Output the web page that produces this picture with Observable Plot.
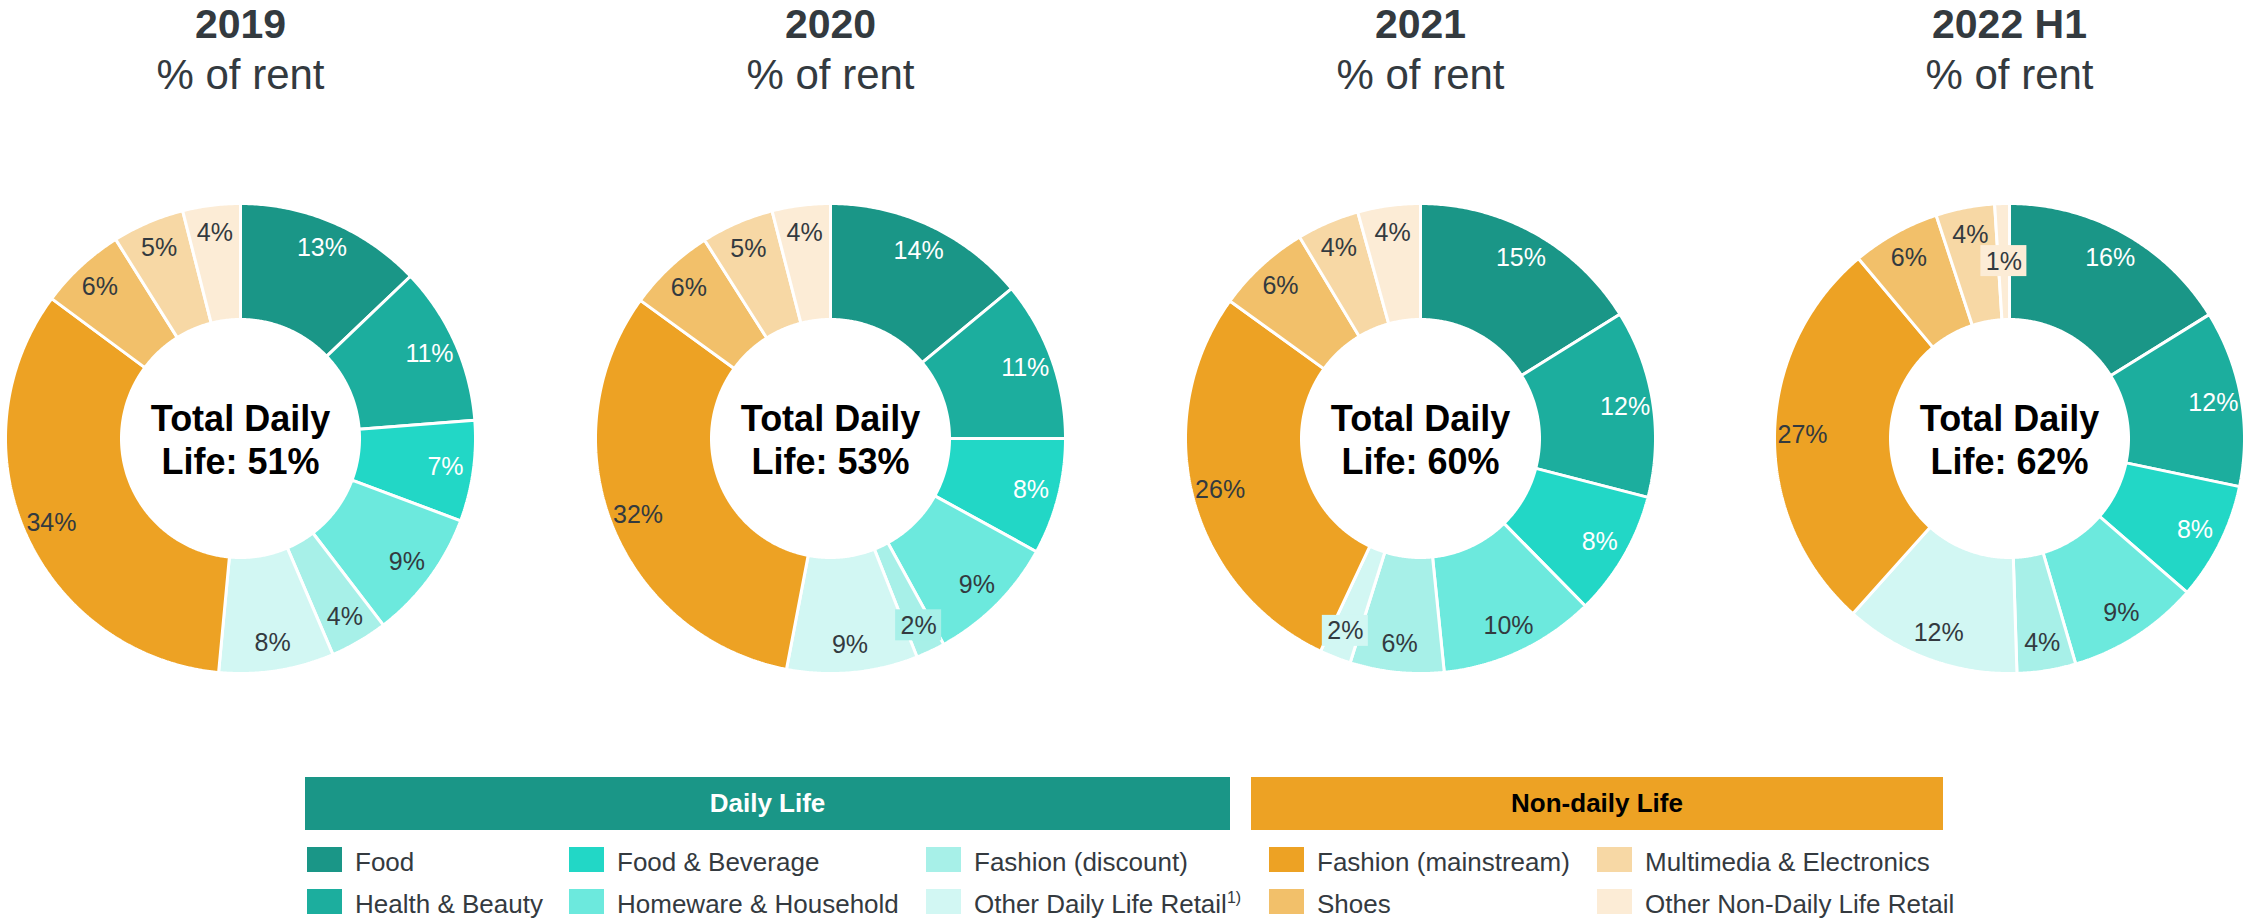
<!DOCTYPE html>
<html><head><meta charset="utf-8">
<script src="https://cdn.jsdelivr.net/npm/d3@7"></script>
<script src="https://cdn.jsdelivr.net/npm/@observablehq/plot@0.6"></script>
<style>
body{margin:0;background:#fff;font-family:"Liberation Sans",Arial,sans-serif;}
#wrap{position:relative;width:2247px;height:923px;overflow:hidden;background:#fff;}
#chart{position:absolute;left:0;top:0;}
.bar{position:absolute;top:777px;height:53px;display:flex;align-items:center;justify-content:center;font-weight:bold;font-size:26px;}
.sw{position:absolute;width:35px;height:25px;}
.lt{position:absolute;font-size:26px;color:#343a3f;line-height:26px;white-space:nowrap;}
.lt sup{font-size:16px;line-height:0;vertical-align:10px;}
</style></head><body><div id="wrap"><div id="chart"></div><div id="legend"></div></div>
<script>
// ---- data ----
const years = ["2019", "2020", "2021", "2022 H1"];
const totalDailyLife = [51, 53, 60, 62];
const categories = ["Food", "Health & Beauty", "Food & Beverage", "Homeware & Household", "Fashion (discount)", "Other Daily Life Retail", "Fashion (mainstream)", "Shoes", "Multimedia & Electronics", "Other Non-Daily Life Retail"];
const groups = ["Daily Life", "Daily Life", "Daily Life", "Daily Life", "Daily Life", "Daily Life", "Non-daily Life", "Non-daily Life", "Non-daily Life", "Non-daily Life"];
const colors = ["#1a9687", "#1cae9e", "#22d7c6", "#6ce9dd", "#a7f0e8", "#d2f7f3", "#eda224", "#f2c06a", "#f7d8a5", "#fcecd6"];
const values2019 = [13, 11, 7, 9, 4, 8, 34, 6, 5, 4];
const values2020 = [14, 11, 8, 9, 2, 9, 32, 6, 5, 4];
const values2021 = [15, 12, 8, 10, 6, 2, 26, 6, 4, 4];
const values2022 = [16, 12, 8, 9, 4, 12, 27, 6, 4, 1];
const seriesValues = [values2019, values2020, values2021, values2022];
const whiteLabelCats = ["Food", "Health & Beauty", "Food & Beverage"];

// ---- layout ----
const W = 2247, H = 700;
const centersX = [240, 830, 1420, 2009];
const CY = 438, R_OUT = 235, R_IN = 119, R_LABEL = 207, R_LABEL_TINY = 177;
const textDark = "#333a3f";

// ---- build geometry from data ----
const points = [];
const labels = [];
const yearInfo = [];
years.forEach((yr, k) => {
  const cx = centersX[k];
  const vals = seriesValues[k];
  const arcs = d3.pie().sort(null).value(d => d)(vals);
  yearInfo.push({year: yr, total: totalDailyLife[k], cx});
  arcs.forEach((a, i) => {
    const id = yr + "|" + i;
    const cat = categories[i];
    const n = Math.max(2, Math.ceil((a.endAngle - a.startAngle) / (Math.PI / 360)));
    for (let j = 0; j <= n; j++) {
      const t = a.startAngle + (a.endAngle - a.startAngle) * j / n;
      points.push({id, cat, x: cx + R_OUT * Math.sin(t), y: CY - R_OUT * Math.cos(t)});
    }
    for (let j = n; j >= 0; j--) {
      const t = a.startAngle + (a.endAngle - a.startAngle) * j / n;
      points.push({id, cat, x: cx + R_IN * Math.sin(t), y: CY - R_IN * Math.cos(t)});
    }
    const mid = (a.startAngle + a.endAngle) / 2;
    const v = vals[i];
    const rl = v <= 1 ? R_LABEL_TINY : R_LABEL;
    labels.push({
      cat, value: v, text: v + "%",
      x: cx + rl * Math.sin(mid), y: CY - rl * Math.cos(mid),
      white: whiteLabelCats.includes(cat),
      boxed: v <= 2
    });
  });
});

const font = "Liberation Sans, Arial, sans-serif";
const chart = Plot.plot({
  width: W, height: H, margin: 0,
  x: {domain: [0, W], range: [0, W], axis: null},
  y: {domain: [0, H], range: [0, H], axis: null},
  color: {domain: categories, range: colors},
  style: {fontFamily: font, background: "white", overflow: "visible"},
  marks: [
    Plot.line(points, {x: "x", y: "y", z: "id", fill: "cat", stroke: "white", strokeWidth: 3, curve: "linear-closed", strokeLinejoin: "miter"}),
    Plot.rect(labels.filter(d => d.boxed), {x1: d => d.x - 23, x2: d => d.x + 23, y1: d => d.y - 16, y2: d => d.y + 15, fill: "cat"}),
    Plot.text(labels.filter(d => d.white), {x: "x", y: "y", text: "text", fill: "white", fontSize: 25}),
    Plot.text(labels.filter(d => !d.white), {x: "x", y: "y", text: "text", fill: textDark, fontSize: 25}),
    Plot.text(yearInfo, {x: "cx", y: () => CY, text: d => `Total Daily\nLife: ${d.total}%`, fill: "black", fontSize: 36, fontWeight: "bold", lineHeight: 1.2}),
    Plot.text(yearInfo, {x: "cx", y: () => 37, text: "year", fill: textDark, fontSize: 41, fontWeight: "bold", lineAnchor: "bottom"}),
    Plot.text(yearInfo, {x: "cx", y: () => 88, text: () => "% of rent", fill: textDark, fontSize: 42, lineAnchor: "bottom"})
  ]
});
document.getElementById("chart").appendChild(chart);

// ---- legend ----
const legend = document.getElementById("legend");
const barSpecs = [
  {name: "Daily Life", left: 305, width: 925, bg: colors[0], fg: "white"},
  {name: "Non-daily Life", left: 1251, width: 692, bg: colors[6], fg: "black"}
];
barSpecs.forEach(b => {
  const el = document.createElement("div");
  el.className = "bar";
  el.style.left = b.left + "px"; el.style.width = b.width + "px";
  el.style.background = b.bg; el.style.color = b.fg;
  el.textContent = b.name;
  legend.appendChild(el);
});
const colLefts = [307, 569, 926, 1269, 1597];
const rowTops = [847, 889];
categories.forEach((c, i) => {
  const col = Math.floor(i / 2), row = i % 2;
  const sw = document.createElement("div");
  sw.className = "sw";
  sw.style.left = colLefts[col] + "px"; sw.style.top = rowTops[row] + "px";
  sw.style.background = colors[i];
  legend.appendChild(sw);
  const t = document.createElement("div");
  t.className = "lt";
  t.style.left = (colLefts[col] + 48) + "px"; t.style.top = (rowTops[row] + 2) + "px";
  t.innerHTML = c + (c === "Other Daily Life Retail" ? "<sup>1)</sup>" : "");
  legend.appendChild(t);
});
</script></body></html>
